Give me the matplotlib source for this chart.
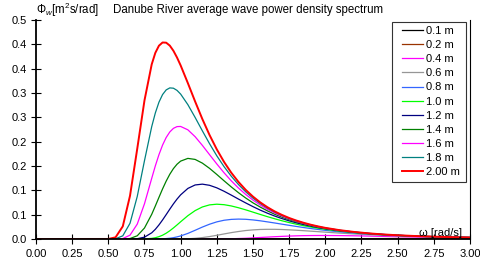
import numpy as np
import matplotlib.pyplot as plt
from matplotlib.patches import Rectangle

# frequency grid [rad/s]
omega = [0.0, 0.50, 0.55, 0.60, 0.65, 0.70, 0.75, 0.80, 0.825, 0.85, 0.875,
         0.90, 0.925, 0.95, 0.975, 1.00, 1.05, 1.10, 1.15, 1.20, 1.25,
         1.30, 1.35, 1.40, 1.45, 1.50, 1.55, 1.60, 1.65, 1.70, 1.75,
         1.80, 1.85, 1.90, 1.95, 2.00, 2.10, 2.20, 2.30, 2.40, 2.50,
         2.60, 2.70, 2.80, 2.90, 3.00]

# spectra, one list per wave height
#            0.0 ... 1.00 | 1.05 ... 2.00 | 2.1 ... 3.0
s_010 = [0, 0, 0, 0, 0, 0, 0, 0, 0, 0, 0, 0, 0, 0, 0, 0,
         0, 0, 0, 0, 0, 0, 0, 0, 0, 0, 0, 0, 0, 0, 0, 0, 0, 0, 0, 0,
         0, 0, 0, 0, 0, 0, 0, 0, 0, 0.0001]
s_020 = [0, 0, 0, 0, 0, 0, 0, 0, 0, 0, 0, 0, 0, 0, 0, 0,
         0, 0, 0, 0, 0, 0, 0, 0, 0, 0, 0, 0, 0, 0, 0, 0, 0, 0.0001, 0.0001, 0.0002,
         0.0004, 0.0006, 0.0008, 0.0009, 0.0011, 0.0012, 0.0013, 0.0013, 0.0013, 0.0012]
s_040 = [0, 0, 0, 0, 0, 0, 0, 0, 0, 0, 0, 0, 0, 0, 0, 0,
         0, 0, 0, 0, 0.0001, 0.0002, 0.0005, 0.0010, 0.0015, 0.0023, 0.0031, 0.0039,
         0.0047, 0.0054, 0.0060, 0.0065, 0.0069, 0.0071, 0.0072, 0.0072,
         0.0070, 0.0066, 0.0060, 0.0054, 0.0048, 0.0043, 0.0037, 0.0033, 0.0029, 0.0025]
s_060 = [0, 0, 0, 0, 0, 0, 0, 0, 0, 0, 0, 0, 0, 0, 0.0001, 0.0001,
         0.0005, 0.0014, 0.0029, 0.0050, 0.0076, 0.0104, 0.0131, 0.0154, 0.0174,
         0.0187, 0.0196, 0.0199, 0.0199, 0.0195, 0.0188, 0.0180, 0.0171, 0.0161,
         0.0151, 0.0141,
         0.0121, 0.0104, 0.0088, 0.0075, 0.0063, 0.0054, 0.0046, 0.0039, 0.0033, 0.0029]
s_080 = [0, 0, 0, 0, 0, 0, 0, 0, 0.0001, 0.0002, 0.0004, 0.0009, 0.0016, 0.0027,
         0.0043, 0.0063,
         0.0115, 0.0179, 0.0245, 0.0304, 0.0352, 0.0385, 0.0403, 0.0409, 0.0405,
         0.0392, 0.0374, 0.0352, 0.0329, 0.0305, 0.0281, 0.0258, 0.0236, 0.0215,
         0.0196, 0.0178,
         0.0147, 0.0122, 0.0101, 0.0084, 0.0070, 0.0058, 0.0049, 0.0041, 0.0035, 0.0030]
s_100 = [0, 0, 0, 0, 0, 0, 0.0002, 0.0013, 0.0026, 0.0048, 0.0078, 0.0119, 0.0169,
         0.0227, 0.0289, 0.0354,
         0.0479, 0.0583, 0.0658, 0.0701, 0.0715, 0.0705, 0.0679, 0.0642, 0.0599,
         0.0552, 0.0505, 0.0459, 0.0416, 0.0375, 0.0338, 0.0304, 0.0273, 0.0246,
         0.0221, 0.0198,
         0.0161, 0.0131, 0.0107, 0.0088, 0.0073, 0.0061, 0.0051, 0.0043, 0.0036, 0.0031]
s_120 = [0, 0, 0, 0, 0, 0.0006, 0.0038, 0.0127, 0.0199, 0.0289, 0.0391, 0.0501,
         0.0613, 0.0721, 0.0820, 0.0907,
         0.1039, 0.1110, 0.1127, 0.1103, 0.1051, 0.0981, 0.0902, 0.0820, 0.0741,
         0.0665, 0.0594, 0.0530, 0.0472, 0.0420, 0.0373, 0.0332, 0.0296, 0.0264,
         0.0236, 0.0211,
         0.0169, 0.0136, 0.0111, 0.0091, 0.0075, 0.0062, 0.0052, 0.0043, 0.0036, 0.0031]
s_140 = [0, 0, 0, 0, 0.0010, 0.0066, 0.0226, 0.0507, 0.0678, 0.0855, 0.1029, 0.1189,
         0.1330, 0.1446, 0.1536, 0.1600,
         0.1656, 0.1635, 0.1559, 0.1451, 0.1326, 0.1196, 0.1070, 0.0951, 0.0842,
         0.0743, 0.0656, 0.0578, 0.0509, 0.0449, 0.0397, 0.0351, 0.0311, 0.0276,
         0.0245, 0.0218,
         0.0174, 0.0140, 0.0113, 0.0092, 0.0076, 0.0063, 0.0052, 0.0044, 0.0037, 0.0031]
s_160 = [0, 0, 0, 0.0009, 0.0079, 0.0306, 0.0724, 0.1246, 0.1502, 0.1732, 0.1929,
         0.2085, 0.2199, 0.2273, 0.2309, 0.2312,
         0.2243, 0.2102, 0.1924, 0.1732, 0.1542, 0.1361, 0.1195, 0.1047, 0.0915,
         0.0800, 0.0699, 0.0611, 0.0535, 0.0470, 0.0413, 0.0363, 0.0321, 0.0284,
         0.0251, 0.0223,
         0.0177, 0.0142, 0.0115, 0.0093, 0.0076, 0.0063, 0.0052, 0.0044, 0.0037, 0.0031]
s_180 = [0, 0, 0.0005, 0.0065, 0.0323, 0.0874, 0.1609, 0.2308, 0.2589, 0.2810, 0.2967,
         0.3063, 0.3104, 0.3098, 0.3053, 0.2977,
         0.2760, 0.2498, 0.2223, 0.1957, 0.1709, 0.1487, 0.1290, 0.1118, 0.0969,
         0.0840, 0.0730, 0.0635, 0.0554, 0.0484, 0.0424, 0.0372, 0.0328, 0.0289,
         0.0256, 0.0227,
         0.0180, 0.0143, 0.0116, 0.0094, 0.0077, 0.0063, 0.0053, 0.0044, 0.0037, 0.0031]
s_200 = [0, 0.0001, 0.0034, 0.0260, 0.0889, 0.1855, 0.2847, 0.3588, 0.3824, 0.3971,
         0.4037, 0.4033, 0.3973, 0.3867, 0.3728, 0.3566,
         0.3202, 0.2826, 0.2465, 0.2135, 0.1841, 0.1584, 0.1362, 0.1172, 0.1009,
         0.0871, 0.0753, 0.0653, 0.0567, 0.0495, 0.0432, 0.0379, 0.0333, 0.0293,
         0.0259, 0.0229,
         0.0181, 0.0145, 0.0116, 0.0094, 0.0077, 0.0064, 0.0053, 0.0044, 0.0037, 0.0031]

heights = ['0.1 m', '0.2 m', '0.4 m', '0.6 m', '0.8 m', '1.0 m',
           '1.2 m', '1.4 m', '1.6 m', '1.8 m', '2.00 m']
spectra = [s_010, s_020, s_040, s_060, s_080, s_100,
           s_120, s_140, s_160, s_180, s_200]
colori = ['#000000', '#993300', '#FF00FF', '#969696', '#3366FF', '#00FF00',
          '#000080', '#008000', '#FF00FF', '#008080', '#FF0000']

x_ticks = [0.0, 0.25, 0.5, 0.75, 1.0, 1.25, 1.5, 1.75, 2.0, 2.25, 2.5, 2.75, 3.0]
y_ticks = [0.0, 0.05, 0.10, 0.15, 0.20, 0.25, 0.30, 0.35, 0.40, 0.45]
y_ticklabels = ['0.0', '0.1', '0.1', '0.2', '0.2', '0.3', '0.3', '0.4', '0.4', '0.5']

plt.rcParams['font.family'] = ['Liberation Sans', 'DejaVu Sans']
plt.rcParams['mathtext.fontset'] = 'custom'
plt.rcParams['mathtext.rm'] = 'Liberation Sans'
plt.rcParams['mathtext.it'] = 'Liberation Sans:italic'

fig = plt.figure(figsize=(4.8, 2.66), dpi=100)
ax = fig.add_axes([0.075, 0.1015, 0.904, 0.8235])

for i in range(len(spectra)):
    lw = 1.4 if i == len(spectra) - 1 else 0.9
    ax.plot(omega, spectra[i], color=colori[i], linewidth=lw, label=heights[i])

# assi
ax.set_xlim(0, 3)
ax.set_ylim(0, 0.45)
ax.set_xticks(x_ticks)
ax.set_xticklabels(['%.2f' % v for v in x_ticks])
ax.set_yticks(y_ticks)
ax.set_yticklabels(y_ticklabels)
ax.tick_params(direction='inout', length=7, width=0.8, labelsize=8, pad=3)
ax.tick_params(axis='x', pad=4)
ax.spines['top'].set_visible(False)
ax.spines['left'].set_linewidth(1.3)
ax.spines['bottom'].set_linewidth(1.3)
ax.spines['right'].set_linewidth(0.8)

fig.text(0.075, 0.962, r'$\Phi_w$[m$^2$s/rad]', fontsize=8.3, ha='left', va='center')
fig.text(0.235, 0.962, 'Danube River average wave power density spectrum',
         fontsize=8.3, ha='left', va='center')
ax.text(0.982, 0.005, 'ω [rad/s]', transform=ax.transAxes,
        fontsize=8, ha='right', va='bottom')

# legenda senza cornice + riquadro disegnato a parte
leg = ax.legend(loc='upper left', bbox_to_anchor=(0.8433, 0.9726), borderaxespad=0,
                fontsize=8, frameon=False, handlelength=1.9,
                handletextpad=0.3, labelspacing=0.37, borderpad=0)
ax.add_patch(Rectangle((0.8203, 0.2603), 0.1705, 0.7306, transform=ax.transAxes,
                       fill=True, facecolor='white', edgecolor='#333333',
                       linewidth=0.8, zorder=4))
leg.set_zorder(5)

plt.savefig('out.png', dpi=100)
